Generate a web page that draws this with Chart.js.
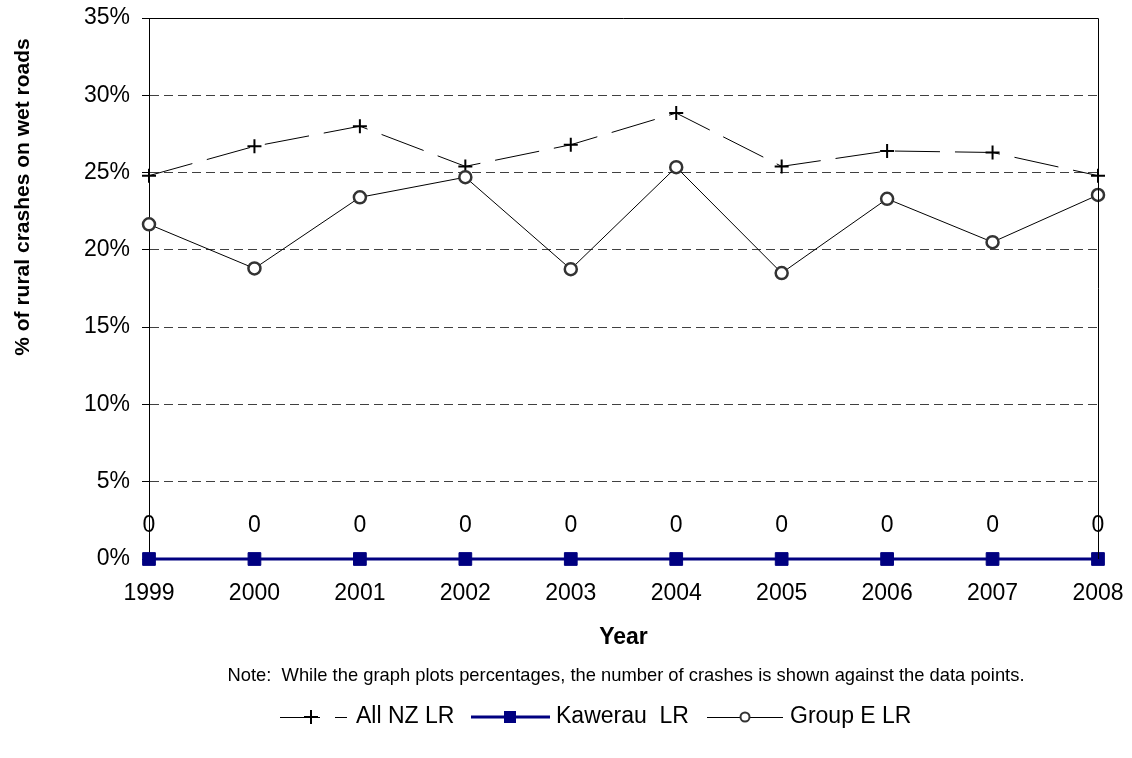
<!DOCTYPE html>
<html>
<head>
<meta charset="utf-8">
<title>Rural crashes on wet roads</title>
<script src="https://cdn.jsdelivr.net/npm/chart.js@4.4.0/dist/chart.umd.min.js"></script>
<style>
  html, body { margin: 0; padding: 0; background: #fff; }
  #wrap { width: 1132px; height: 758px; }
</style>
</head>
<body>
<div id="wrap"><canvas id="wetRoadsChart" width="1132" height="758"></canvas></div>
<script>
// values (percent of rural crashes on wet roads)
const years = ['1999', '2000', '2001', '2002', '2003', '2004', '2005', '2006', '2007', '2008'];
const allNzLR = [24.8, 26.7, 28.0, 25.4, 26.8, 28.85, 25.4, 26.4, 26.3, 24.8];
const kawerauLR = [0, 0, 0, 0, 0, 0, 0, 0, 0, 0];
const groupELR = [21.65, 18.8, 23.4, 24.7, 18.75, 25.35, 18.5, 23.3, 20.5, 23.55];
// number of crashes shown against the Kawerau points
const kawerauCrashes = [0, 0, 0, 0, 0, 0, 0, 0, 0, 0];
const yTicks = [0, 5, 10, 15, 20, 25, 30, 35];

const FONT = '"Liberation Sans", Arial, sans-serif';
const NAVY = '#000080';

// extra bits Excel drew: frame, y title, count labels, note and legend
const extras = {
  id: 'extras',
  afterDraw(chart) {
    const ctx = chart.ctx;
    const area = chart.chartArea;
    ctx.save();

    // top and right border of the plot area
    ctx.strokeStyle = '#000';
    ctx.lineWidth = 1;
    ctx.beginPath();
    ctx.moveTo(area.left, area.top + 0.5);
    ctx.lineTo(area.right + 0.5, area.top + 0.5);
    ctx.lineTo(area.right + 0.5, area.bottom);
    ctx.stroke();

    // crash counts above the Kawerau points
    const meta = chart.getDatasetMeta(1);
    ctx.fillStyle = '#000';
    ctx.font = '23px ' + FONT;
    ctx.textAlign = 'center';
    ctx.textBaseline = 'middle';
    meta.data.forEach((pt, i) => {
      ctx.fillText(String(kawerauCrashes[i]), pt.x, pt.y - 33);
    });

    // y axis title, sits above the middle like in the original
    ctx.save();
    ctx.translate(23, 197);
    ctx.rotate(-Math.PI / 2);
    ctx.font = 'bold 21px ' + FONT;
    ctx.fillText('% of rural crashes on wet roads', 0, 0);
    ctx.restore();

    // note under the chart (original text is a little condensed)
    ctx.font = '19px ' + FONT;
    ctx.fillText('Note:  While the graph plots percentages, the number of crashes is shown against the data points.', 626, 676, 797);

    // legend
    const ly = 717;
    ctx.textAlign = 'left';
    ctx.font = '23px ' + FONT;

    // All NZ LR
    ctx.strokeStyle = '#000';
    ctx.lineWidth = 1;
    ctx.setLineDash([40, 15]);
    ctx.beginPath();
    ctx.moveTo(280, ly + 0.5);
    ctx.lineTo(347, ly + 0.5);
    ctx.stroke();
    ctx.setLineDash([]);
    ctx.lineWidth = 2;
    ctx.beginPath();
    ctx.moveTo(304, ly); ctx.lineTo(318, ly);
    ctx.moveTo(311, ly - 7); ctx.lineTo(311, ly + 7);
    ctx.stroke();
    ctx.fillText(chart.data.datasets[0].label, 356, ly);

    // Kawerau LR
    ctx.strokeStyle = NAVY;
    ctx.fillStyle = NAVY;
    ctx.lineWidth = 3;
    ctx.beginPath();
    ctx.moveTo(471, ly); ctx.lineTo(550, ly);
    ctx.stroke();
    ctx.fillRect(504, ly - 6, 12, 12);
    ctx.fillStyle = '#000';
    ctx.fillText(chart.data.datasets[1].label, 556, ly);

    // Group E LR
    ctx.strokeStyle = '#000';
    ctx.lineWidth = 1;
    ctx.beginPath();
    ctx.moveTo(707, ly + 0.5); ctx.lineTo(783, ly + 0.5);
    ctx.stroke();
    ctx.fillStyle = '#fff';
    ctx.strokeStyle = '#333';
    ctx.lineWidth = 2;
    ctx.beginPath();
    ctx.arc(745, ly, 4.5, 0, Math.PI * 2);
    ctx.fill();
    ctx.stroke();
    ctx.fillStyle = '#000';
    ctx.fillText(chart.data.datasets[2].label, 790, ly);

    ctx.restore();
  }
};

const ctx = document.getElementById('wetRoadsChart').getContext('2d');
new Chart(ctx, {
  type: 'line',
  data: {
    labels: years,
    datasets: [
      {
        label: 'All NZ LR',
        data: allNzLR,
        borderColor: '#000',
        borderWidth: 1,
        borderDash: [45, 15],
        pointStyle: 'cross',
        pointRadius: 7,
        pointBorderWidth: 2,
        pointBorderColor: '#000',
        tension: 0,
        clip: false,
        order: 3
      },
      {
        label: 'Kawerau  LR',
        data: kawerauLR,
        borderColor: NAVY,
        borderWidth: 3,
        pointStyle: 'rect',
        pointRadius: 9,
        pointBackgroundColor: NAVY,
        pointBorderColor: NAVY,
        pointBorderWidth: 1,
        tension: 0,
        clip: false,
        order: 1
      },
      {
        label: 'Group E LR',
        data: groupELR,
        borderColor: '#000',
        borderWidth: 1,
        pointStyle: 'circle',
        pointRadius: 6,
        pointBorderWidth: 2.5,
        pointBorderColor: '#333',
        pointBackgroundColor: '#fff',
        tension: 0,
        clip: false,
        order: 2
      }
    ]
  },
  options: {
    responsive: false,
    animation: false,
    events: [],
    layout: {
      autoPadding: false,
      padding: { left: 0, top: 18, right: 34, bottom: 104 }
    },
    plugins: {
      legend: { display: false },
      tooltip: { enabled: false }
    },
    scales: {
      x: {
        type: 'category',
        offset: false,
        // fixed height, and no extra room for the end labels
        afterFit: (scale) => {
          scale.height = 95;
          scale.paddingLeft = 0;
          scale.paddingRight = 0;
        },
        grid: {
          drawOnChartArea: false,
          drawTicks: true,
          tickLength: 5,
          tickColor: '#000'
        },
        border: { display: true, color: '#000', width: 1 },
        ticks: {
          color: '#000',
          font: { family: FONT, size: 23 },
          padding: 16,
          maxRotation: 0,
          autoSkip: false
        },
        title: {
          display: true,
          text: 'Year',
          color: '#000',
          font: { family: FONT, size: 23, weight: 'bold' },
          padding: { top: 4, bottom: 3 }
        }
      },
      y: {
        min: 0,
        max: 35,
        afterFit: (scale) => {
          scale.width = 149;
          scale.paddingTop = 0;
          scale.paddingBottom = 0;
        },
        afterBuildTicks: (scale) => { scale.ticks = yTicks.map(v => ({ value: v })); },
        grid: {
          color: (c) => (c.tick && (c.tick.value === 0 || c.tick.value === 35)) ? 'rgba(0,0,0,0)' : '#404040',
          lineWidth: 1,
          drawTicks: true,
          tickLength: 7,
          tickColor: '#000',
          tickBorderDash: []
        },
        border: { display: true, color: '#000', width: 1, dash: [9, 5] },
        ticks: {
          color: '#000',
          font: { family: FONT, size: 23 },
          padding: 12,
          callback: (v) => v + '%'
        }
      }
    }
  },
  plugins: [extras]
});
</script>
</body>
</html>
